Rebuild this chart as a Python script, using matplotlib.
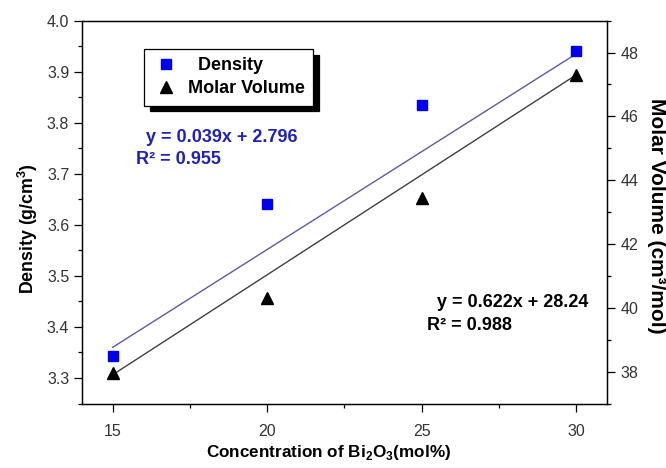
import matplotlib.pyplot as plt
from matplotlib.ticker import MultipleLocator, FormatStrFormatter

plt.rcParams['font.family'] = ['Liberation Sans', 'DejaVu Sans']

# Bi2O3 content (mol%)
conc = [15, 20, 25, 30]
density = [3.343, 3.641, 3.835, 3.941]
molar_volume = [37.97, 40.3, 43.45, 47.3]

# trend lines as drawn in the figure, values at x = 15 and x = 30
fit_x = [15, 30]
density_fit = [3.36, 3.935]
mv_fit = [37.9, 47.3]

fig = plt.figure(figsize=(6.66, 4.68), dpi=100)
ax = fig.add_axes([0.1227, 0.1378, 0.7887, 0.818])
ax2 = ax.twinx()

ax.plot(fit_x, density_fit, color='#5a5aa8', lw=1.0, zorder=2)
ax2.plot(fit_x, mv_fit, color='#404040', lw=1.0, zorder=2)
sq, = ax.plot(conc, density, 's', color='#0000ee', ms=6.8, ls='none', label='  Density', zorder=3)
tr, = ax2.plot(conc, molar_volume, '^', color='black', ms=8.5, ls='none', label='Molar Volume', zorder=3)

ax.set_xlim(14, 31)
ax.set_ylim(3.25, 4.0)
ax2.set_ylim(37, 49)

ax.xaxis.set_major_locator(MultipleLocator(5))
ax.xaxis.set_minor_locator(MultipleLocator(2.5))
ax.yaxis.set_major_locator(MultipleLocator(0.1))
ax.yaxis.set_minor_locator(MultipleLocator(0.05))
ax.yaxis.set_major_formatter(FormatStrFormatter('%.1f'))
ax2.yaxis.set_major_locator(MultipleLocator(2))
ax2.yaxis.set_minor_locator(MultipleLocator(1))

for a in (ax, ax2):
    a.tick_params(which='major', direction='out', length=6, width=0.9, labelsize=11.5, labelcolor='#333333')
    a.tick_params(which='minor', direction='out', length=2.8, width=0.9)
    for s in a.spines.values():
        s.set_linewidth(0.9)
ax.tick_params(top=False, right=False, which='both')
ax.tick_params(axis='x', which='major', pad=9)
ax.tick_params(axis='y', which='major', pad=3)
ax2.tick_params(axis='y', which='major', pad=4)

ax.set_xlabel('Concentration of Bi$_\\mathregular{2}$O$_\\mathregular{3}$(mol%)',
              fontsize=12.3, fontweight='bold')
ax.xaxis.set_label_coords(0.47, -0.102)
ax.set_ylabel('Density (g/cm$^\\mathregular{3}$)', fontsize=12.8, fontweight='bold')
ax.yaxis.set_label_coords(-0.079, 0.458)
ax2.set_ylabel('Molar Volume (cm³/mol)', fontsize=15, fontweight='bold', rotation=270)
ax2.yaxis.set_label_coords(1.112, 0.49)

leg = ax2.legend(handles=[sq, tr], loc='upper left', bbox_to_anchor=(0.1186, 0.926),
                 borderaxespad=0, fancybox=False, edgecolor='black', framealpha=1,
                 shadow={'ox': 4, 'oy': -4, 'color': 'black', 'alpha': 1},
                 prop={'weight': 'bold', 'size': 13}, handletextpad=0.5,
                 borderpad=0.45, labelspacing=0.35, handlelength=1.5)
leg.get_frame().set_linewidth(0.9)

ax.text(0.122, 0.696, 'y = 0.039x + 2.796', transform=ax.transAxes, color='#1f1fbf',
        fontsize=13, fontweight='bold', va='center', ha='left')
ax.text(0.104, 0.638, 'R² = 0.955', transform=ax.transAxes, color='#1f1fbf',
        fontsize=13, fontweight='bold', va='center', ha='left')
ax.text(0.676, 0.263, 'y = 0.622x + 28.24', transform=ax.transAxes, color='black',
        fontsize=13, fontweight='bold', va='center', ha='left')
ax.text(0.657, 0.203, 'R² = 0.988', transform=ax.transAxes, color='black',
        fontsize=13, fontweight='bold', va='center', ha='left')

fig.savefig('out.png', dpi=100)
